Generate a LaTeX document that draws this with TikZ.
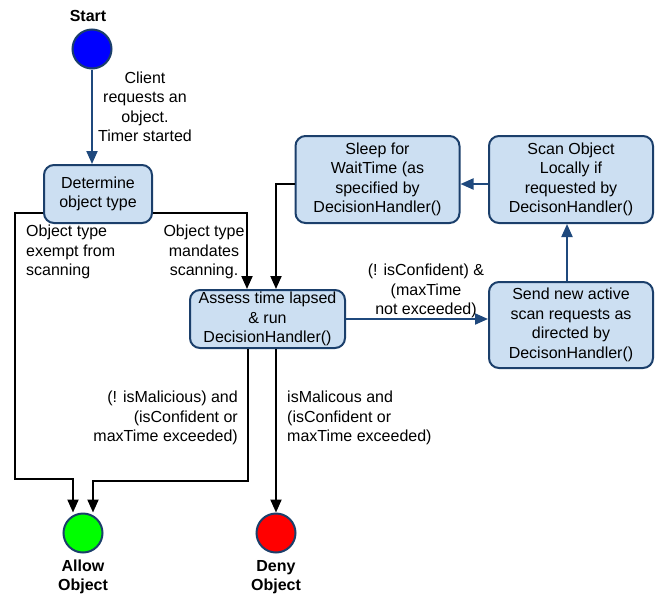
\documentclass[tikz,border=0pt]{standalone}
\usepackage{fontspec}
\setmainfont{Liberation Sans}
\usetikzlibrary{arrows.meta}
\definecolor{navy}{HTML}{1B3F6B}
\definecolor{arrowblue}{HTML}{1F497D}
\definecolor{boxfill}{HTML}{CCDFF2}
\begin{document}
\begin{tikzpicture}[x=1pt,y=-1pt,
  font=\fontsize{16}{19.5}\selectfont,
  box/.style={draw=navy, line width=2pt, fill=boxfill, rounded corners=10pt, align=center, inner sep=0pt},
  state/.style={circle, draw=navy, line width=2pt, minimum size=39pt, inner sep=0pt},
  lbl/.style={inner sep=0pt, align=center},
  tip/.style={-{Triangle[length=13pt,width=11pt]}},
  bluecon/.style={draw=arrowblue, line width=2pt, tip},
  blackcon/.style={draw=black, line width=2pt, tip},
  title/.style={inner sep=0pt, align=center, font=\fontsize{16}{19.5}\selectfont\bfseries}]
\useasboundingbox (0,0) rectangle (660,597);

% states
\node[state, fill={rgb,255:red,0;green,0;blue,255}] (start) at (92,49) {};
\node[state, fill={rgb,255:red,0;green,255;blue,0}] (allow) at (83,533) {};
\node[state, fill={rgb,255:red,255;green,0;blue,0}] (deny) at (276,533) {};
\node[title] (startlbl) at (88,16) {Start};
\node[title] (allowlbl) at (83,577) {Allow\\Object};
\node[title] (denylbl) at (276,577) {Deny\\Object};

% boxes
\node[box, minimum width=108pt, minimum height=58pt] (det) at (98,194) {Determine\\object type};
\node[box, minimum width=155pt, minimum height=58pt] (assess) at (267.5,319) {Assess time lapsed\\\& run\\DecisionHandler()};
\node[box, minimum width=164pt, minimum height=87pt] (sleep) at (377.5,179.5) {Sleep for\\WaitTime (as\\specified by\\DecisionHandler()};
\node[box, minimum width=164pt, minimum height=87pt] (scan) at (571,179.5) {Scan Object\\Locally if\\requested by\\DecisonHandler()};
\node[box, minimum width=164pt, minimum height=86pt] (send) at (571,325) {Send new active\\scan requests as\\directed by\\DecisonHandler()};

% connectors
\draw[bluecon] (start.south) -- (start.south |- det.north);
\draw[blackcon] ([yshift=-19pt]det.west) -| (15,479) -| ([xshift=-10pt]allow.north);
\draw[blackcon] ([yshift=-19pt]det.east) -| ([xshift=-20.5pt]assess.north);
\draw[blackcon] ([yshift=-4.5pt]sleep.west) -| ([xshift=8.5pt]assess.north);
\draw[bluecon] ([yshift=-4.5pt]scan.west) -- ([yshift=-4.5pt]sleep.east);
\draw[bluecon] ([xshift=-4pt]send.north) -- ([xshift=-4pt]scan.south);
\draw[bluecon] (assess.east) -- (assess.east -| send.west);
\draw[blackcon] ([xshift=-20pt]assess.south) -- ++(0,132) -| ([xshift=10pt]allow.north);
\draw[blackcon] (assess.south -| deny.north) -- (deny.north);

% labels
\node[lbl] (l1) at (145,107) {Client\\requests an\\object.\\Timer started};
\node[lbl, align=left, anchor=west] (l2) at (26,252) {Object type\\exempt from\\scanning};
\node[lbl] (l3) at (204,252) {Object type\\mandates\\scanning.};
\node[lbl] (l4) at (426,291) {(! isConfident) \&\\(maxTime\\not exceeded)};
\node[lbl, align=right, anchor=east] (l5) at (238,418) {(! isMalicious) and\\(isConfident or\\maxTime exceeded)};
\node[lbl, align=left, anchor=west] (l6) at (287,418) {isMalicous and\\(isConfident or\\maxTime exceeded)};
\end{tikzpicture}
\end{document}
